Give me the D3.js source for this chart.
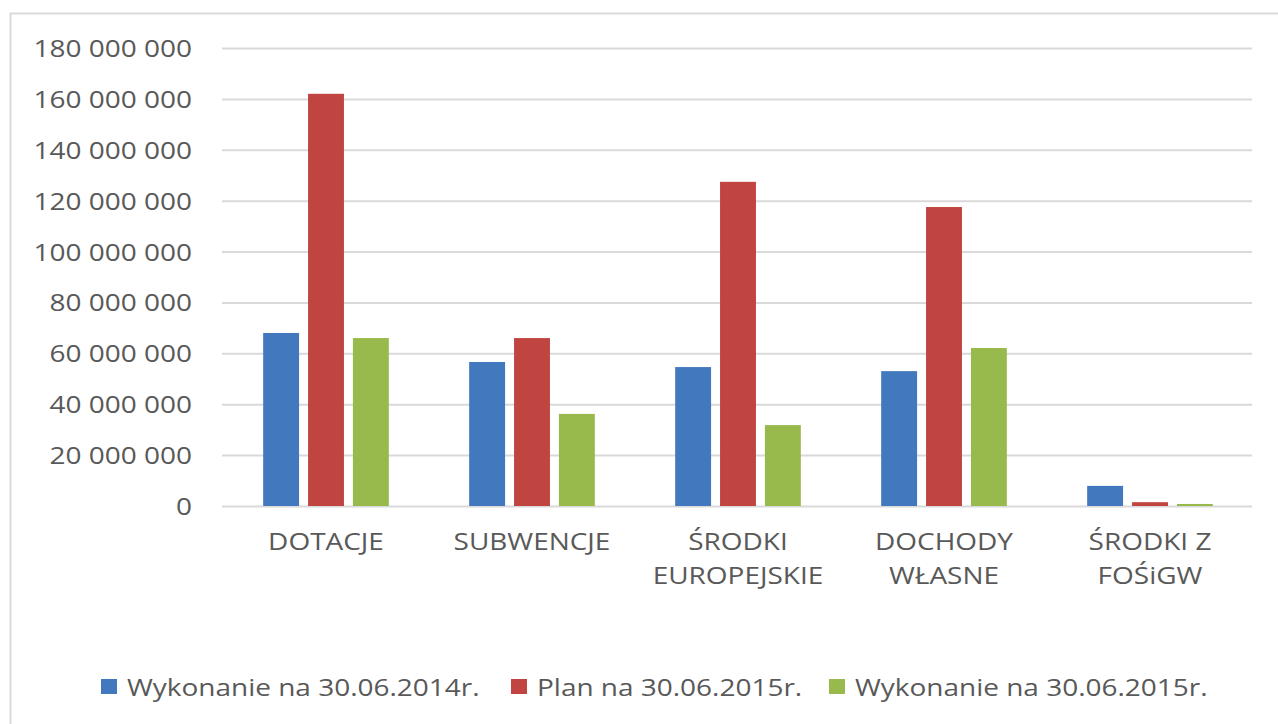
<!DOCTYPE html>
<html><head><meta charset="utf-8">
<script src="https://cdn.jsdelivr.net/npm/d3@7"></script>
<style>body{margin:0;background:#fff}svg{display:block}text{font-family:"Open Sans",sans-serif;fill:#595959}</style>
</head><body><svg id="c" width="1278" height="724"></svg>
<script>
const categories = [["DOTACJE"],["SUBWENCJE"],["ŚRODKI","EUROPEJSKIE"],["DOCHODY","WŁASNE"],["ŚRODKI Z","FOŚiGW"]];
const seriesNames = ["Wykonanie na 30.06.2014r.","Plan na 30.06.2015r.","Wykonanie na 30.06.2015r."];
const colors = ["#4278bd","#c0443f","#98b94b"];
const wyk2014 = [68000000,56600000,54600000,53000000,7900000];
const plan2015 = [162000000,66000000,127400000,117500000,1500000];
const wyk2015 = [66000000,36200000,31800000,62100000,800000];
const yTicks = [0,20000000,40000000,60000000,80000000,100000000,120000000,140000000,160000000,180000000];
const series = [wyk2014,plan2015,wyk2015];

const FS = 23.5, STRETCH = 1.19;
function stretch(sel){
  sel.each(function(){
    const w = this.getComputedTextLength();
    d3.select(this).attr("textLength", w*STRETCH).attr("lengthAdjust","spacingAndGlyphs");
  });
}

const svg = d3.select("#c");
svg.append("rect").attr("x",10.5).attr("y",13.5).attr("width",1300).attr("height",800)
  .attr("fill","none").attr("stroke","#d9d9d9").attr("stroke-width",2);

const L=222,R=1252,T=48,B=506;
const x = d3.scaleBand().domain(d3.range(categories.length)).range([L,R]).paddingInner(0.39).paddingOuter(0.195);
const xs = d3.scaleBand().domain(d3.range(3)).range([0,x.bandwidth()]).paddingInner(0.2);
const y = d3.scaleLinear().domain([0,180000000]).range([B,T]);
const fmt = v => d3.format(",")(v).replace(/,/g," ");

const ax = svg.append("g").attr("transform",`translate(${L},0)`)
  .call(d3.axisLeft(y).tickValues(yTicks).tickSize(-(R-L)).tickFormat(fmt).tickPadding(30));
ax.select(".domain").remove();
ax.selectAll(".tick line").attr("stroke","#d9d9d9").attr("stroke-width",2);
ax.selectAll(".tick text").attr("font-size",FS).attr("fill","#595959").attr("dy","0.36em").call(stretch);

series.forEach((s,i)=>{
  svg.append("g").selectAll("rect").data(s).join("rect")
    .attr("x",(d,j)=>x(j)+xs(i)+1).attr("width",xs.bandwidth())
    .attr("y",d=>y(d)).attr("height",d=>B-y(d)).attr("fill",colors[i]);
});

const cg = svg.append("g");
categories.forEach((lines,j)=>{
  lines.forEach((ln,k)=>{
    cg.append("text").attr("text-anchor","middle").attr("font-size",FS)
      .attr("x",x(j)+x.bandwidth()/2+1).attr("y",550+k*34).text(ln).call(stretch);
  });
});

const legX=[101,511,829];
const lg = svg.append("g");
seriesNames.forEach((n,i)=>{
  lg.append("rect").attr("x",legX[i]).attr("y",679).attr("width",16).attr("height",15).attr("fill",colors[i]);
  lg.append("text").attr("x",legX[i]+26).attr("y",696).attr("font-size",FS).text(n).call(stretch);
});
</script></body></html>
